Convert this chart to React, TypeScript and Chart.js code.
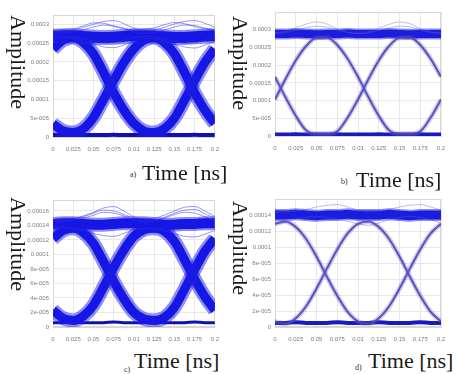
import React, { useEffect, useRef } from 'react';
import { Chart, registerables } from 'chart.js';
Chart.register(...registerables);

// time samples [ns]
const T = [0, 0.0125, 0.025, 0.0375, 0.05, 0.0625, 0.075, 0.0875, 0.1, 0.1125, 0.125, 0.1375, 0.15, 0.1625, 0.175, 0.1875, 0.2];
const X_TICKS = [0, 0.025, 0.05, 0.075, 0.1, 0.125, 0.15, 0.175, 0.2];
const X_TICK_LABELS = ['0', '0.025', '0.05', '0.075', '0.01', '0.125', '0.15', '0.175', '0.2'];

// y ticks
const AB_Y_TICKS = [0, 0.00005, 0.0001, 0.00015, 0.0002, 0.00025, 0.0003];
const AB_Y_LABELS = ['0', '5e-005', '0.0001', '0.00015', '0.0002', '0.00025', '0.0003'];
const C_Y_TICKS = [0, 0.00002, 0.00004, 0.00006, 0.00008, 0.0001, 0.00012, 0.00014, 0.00016];
const C_Y_LABELS = ['0', '2e-005', '4e-005', '6e-005', '8e-005', '0.0001', '0.00012', '0.00014', '0.00016'];
const D_Y_TICKS = [0, 0.00002, 0.00004, 0.00006, 0.00008, 0.0001, 0.00012, 0.00014];
const D_Y_LABELS = ['0', '2e-005', '4e-005', '6e-005', '8e-005', '0.0001', '0.00012', '0.00014'];

// panel a
const A_FALL = [0.000235, 0.000258, 0.000265, 0.000252, 0.000222, 0.000172, 0.000118, 0.000072, 0.000036, 0.000016, 0.000012, 0.000022, 0.00005, 0.000098, 0.00015, 0.000198, 0.000235];
const A_RISE = [0.000035, 0.000016, 0.000012, 0.000022, 0.000052, 0.0001, 0.00015, 0.000198, 0.000235, 0.000258, 0.000265, 0.000252, 0.000222, 0.000172, 0.000118, 0.000072, 0.000036];
const A_HIGH = [0.000268, 0.00027, 0.00027, 0.000268, 0.000266, 0.000265, 0.000266, 0.000268, 0.00027, 0.00027, 0.000269, 0.000267, 0.000265, 0.000265, 0.000267, 0.000269, 0.00027];
const A_NOISE_1 = [0.00028, 0.000282, 0.000285, 0.000292, 0.0003, 0.000308, 0.00031, 0.000302, 0.00029, 0.000285, 0.000286, 0.000292, 0.000301, 0.000308, 0.00031, 0.000303, 0.000292];
const A_NOISE_2 = [0.000265, 0.000262, 0.000262, 0.000255, 0.000248, 0.00024, 0.000238, 0.000245, 0.000255, 0.000262, 0.000262, 0.000255, 0.000247, 0.00024, 0.000237, 0.000245, 0.000255];
const A_NOISE_3 = [0.000275, 0.000278, 0.00028, 0.000286, 0.000293, 0.000298, 0.000296, 0.00029, 0.00028, 0.000276, 0.000278, 0.000285, 0.000293, 0.000298, 0.000297, 0.00029, 0.000282];
const A_NOISE_4 = [0.000285, 0.000286, 0.000288, 0.000296, 0.000304, 0.000303, 0.000295, 0.000288, 0.000286, 0.000287, 0.000291, 0.000299, 0.000305, 0.000302, 0.000294, 0.000288, 0.000286];
const A_NOISE_5 = [0.00027, 0.000268, 0.000266, 0.000262, 0.000256, 0.000251, 0.000252, 0.000258, 0.000265, 0.000268, 0.000267, 0.000262, 0.000255, 0.00025, 0.000251, 0.000258, 0.000265];
const A_LOW = [0.000005, 0.000005, 0.000006, 0.000005, 0.000005, 0.000005, 0.000006, 0.000005, 0.000005, 0.000005, 0.000006, 0.000005, 0.000005, 0.000005, 0.000006, 0.000005, 0.000005];

// panel b
const B_UP = [0.000103, 0.00016, 0.000213, 0.000254, 0.000277, 0.000278, 0.000257, 0.000218, 0.000167, 0.00011, 0.000057, 0.000016, 0.000006, 0.000006, 0.000013, 0.000052, 0.000103];
const B_DOWN = [0.000167, 0.00011, 0.000057, 0.000016, 0.000006, 0.000006, 0.000013, 0.000052, 0.000103, 0.00016, 0.000213, 0.000254, 0.000277, 0.000278, 0.000257, 0.000218, 0.000167];
const B_HIGH = [0.000288, 0.000288, 0.000289, 0.000288, 0.000287, 0.000288, 0.000288, 0.000289, 0.000288, 0.000288, 0.000288, 0.000289, 0.000288, 0.000287, 0.000288, 0.000288, 0.000288];
const B_NOISE_1 = [0.000292, 0.000295, 0.000305, 0.000316, 0.000322, 0.000316, 0.000302, 0.000293, 0.00029, 0.000294, 0.000304, 0.000315, 0.000322, 0.000317, 0.000303, 0.000294, 0.00029];
const B_NOISE_2 = [0.00029, 0.000292, 0.000298, 0.000306, 0.00031, 0.000307, 0.0003, 0.000292, 0.000289, 0.000291, 0.000298, 0.000305, 0.00031, 0.000308, 0.0003, 0.000292, 0.00029];
const B_LOW = [0.000004, 0.000004, 0.000005, 0.000004, 0.000004, 0.000004, 0.000005, 0.000004, 0.000004, 0.000004, 0.000005, 0.000004, 0.000004, 0.000004, 0.000005, 0.000004, 0.000004];

// panel c
const C_FALL = [0.000122, 0.000133, 0.000136, 0.00013, 0.000115, 0.00009, 0.000063, 0.000039, 0.00002, 0.000011, 0.000009, 0.000013, 0.000027, 0.000052, 0.000079, 0.000104, 0.000122];
const C_RISE = [0.000023, 0.000012, 0.000009, 0.000015, 0.00003, 0.000055, 0.000082, 0.000106, 0.000125, 0.000134, 0.000136, 0.000132, 0.000118, 0.000093, 0.000066, 0.000042, 0.000023];
const C_HIGH = [0.000142, 0.000143, 0.000143, 0.000142, 0.000141, 0.000141, 0.000142, 0.000143, 0.000143, 0.000143, 0.000142, 0.000141, 0.000141, 0.000142, 0.000142, 0.000143, 0.000143];
const C_NOISE_1 = [0.000148, 0.00015, 0.00015, 0.000153, 0.000158, 0.000164, 0.000166, 0.00016, 0.000152, 0.000149, 0.00015, 0.000154, 0.00016, 0.000165, 0.000166, 0.00016, 0.000152];
const C_NOISE_2 = [0.000145, 0.000146, 0.000147, 0.00015, 0.000154, 0.000158, 0.000157, 0.000153, 0.000147, 0.000145, 0.000146, 0.00015, 0.000155, 0.000158, 0.000157, 0.000152, 0.000147];
const C_NOISE_3 = [0.000138, 0.000137, 0.000136, 0.000133, 0.000129, 0.000126, 0.000125, 0.000129, 0.000134, 0.000136, 0.000136, 0.000133, 0.000129, 0.000125, 0.000124, 0.000128, 0.000133];
const C_NOISE_4 = [0.000147, 0.000148, 0.000149, 0.000152, 0.000157, 0.000161, 0.00016, 0.000155, 0.00015, 0.000148, 0.000148, 0.000151, 0.000157, 0.000161, 0.000162, 0.000156, 0.00015];
const C_LOW = [0.000006, 0.000006, 0.000007, 0.000006, 0.000006, 0.000006, 0.000007, 0.000006, 0.000006, 0.000006, 0.000007, 0.000006, 0.000006, 0.000006, 0.000007, 0.000006, 0.000006];

// panel d
const D_FALL = [0.000129, 0.000132, 0.000125, 0.00011, 0.000088, 0.000063, 0.000039, 0.000019, 0.000007, 0.000004, 0.000011, 0.000026, 0.000048, 0.000073, 0.000097, 0.000117, 0.000129];
const D_RISE = [0.000007, 0.000004, 0.000011, 0.000026, 0.000048, 0.000073, 0.000097, 0.000117, 0.000129, 0.000132, 0.000125, 0.00011, 0.000088, 0.000063, 0.000039, 0.000019, 0.000007];
const D_HIGH = [0.00014, 0.00014, 0.000141, 0.00014, 0.000139, 0.00014, 0.00014, 0.000141, 0.00014, 0.00014, 0.00014, 0.000141, 0.00014, 0.000139, 0.00014, 0.00014, 0.00014];
const D_NOISE_1 = [0.000143, 0.000144, 0.000145, 0.000147, 0.00015, 0.000152, 0.000153, 0.00015, 0.000146, 0.000144, 0.000145, 0.000147, 0.00015, 0.000152, 0.000153, 0.00015, 0.000146];
const D_NOISE_2 = [0.000128, 0.000131, 0.000135, 0.000137, 0.000138, 0.000137, 0.000135, 0.000132, 0.000129, 0.000127, 0.00013, 0.000134, 0.000137, 0.000138, 0.000137, 0.000134, 0.00013];
const D_LOW = [0.000005, 0.000005, 0.000006, 0.000005, 0.000005, 0.000005, 0.000006, 0.000005, 0.000005, 0.000005, 0.000006, 0.000005, 0.000005, 0.000005, 0.000006, 0.000005, 0.000005];

type Trace = { values: number[]; color: string; width: number };

const BLUE = '#1010e4';
const BLUE_HALO = 'rgba(30,30,230,0.5)';
const NOISE = 'rgba(50,50,225,0.5)';
const PURPLE = 'rgba(68,60,175,0.9)';
const PURPLE_HALO = 'rgba(100,90,200,0.3)';

const TRACES_A: Trace[] = [
  { values: A_NOISE_1, color: NOISE, width: 1 },
  { values: A_NOISE_2, color: NOISE, width: 1 },
  { values: A_NOISE_3, color: NOISE, width: 1 },
  { values: A_NOISE_4, color: NOISE, width: 1 },
  { values: A_NOISE_5, color: NOISE, width: 1 },
  { values: A_HIGH, color: BLUE_HALO, width: 15 },
  { values: A_HIGH, color: BLUE, width: 11 },
  { values: A_FALL, color: BLUE_HALO, width: 14 },
  { values: A_RISE, color: BLUE_HALO, width: 14 },
  { values: A_FALL, color: BLUE, width: 9 },
  { values: A_RISE, color: BLUE, width: 9 },
  { values: A_LOW, color: '#1010b0', width: 4 },
];
const TRACES_B: Trace[] = [
  { values: B_NOISE_1, color: 'rgba(90,90,210,0.4)', width: 1 },
  { values: B_NOISE_2, color: 'rgba(90,90,210,0.4)', width: 1 },
  { values: B_UP, color: PURPLE_HALO, width: 5 },
  { values: B_DOWN, color: PURPLE_HALO, width: 5 },
  { values: B_UP, color: PURPLE, width: 2 },
  { values: B_DOWN, color: PURPLE, width: 2 },
  { values: B_HIGH, color: BLUE_HALO, width: 11 },
  { values: B_HIGH, color: '#1a1ad8', width: 8 },
  { values: B_LOW, color: '#1a1ac0', width: 4 },
];
const TRACES_C: Trace[] = [
  { values: C_NOISE_1, color: NOISE, width: 1 },
  { values: C_NOISE_2, color: NOISE, width: 1 },
  { values: C_NOISE_3, color: NOISE, width: 1 },
  { values: C_NOISE_4, color: NOISE, width: 1 },
  { values: C_HIGH, color: BLUE_HALO, width: 14 },
  { values: C_HIGH, color: BLUE, width: 10 },
  { values: C_FALL, color: BLUE_HALO, width: 14 },
  { values: C_RISE, color: BLUE_HALO, width: 14 },
  { values: C_FALL, color: BLUE, width: 9 },
  { values: C_RISE, color: BLUE, width: 9 },
  { values: C_LOW, color: '#1010b0', width: 3 },
];
const TRACES_D: Trace[] = [
  { values: D_NOISE_1, color: 'rgba(90,90,210,0.4)', width: 1 },
  { values: D_NOISE_2, color: 'rgba(90,90,210,0.4)', width: 1 },
  { values: D_FALL, color: PURPLE_HALO, width: 5 },
  { values: D_RISE, color: PURPLE_HALO, width: 5 },
  { values: D_FALL, color: PURPLE, width: 2 },
  { values: D_RISE, color: PURPLE, width: 2 },
  { values: D_HIGH, color: BLUE_HALO, width: 12 },
  { values: D_HIGH, color: '#1a1ad8', width: 9 },
  { values: D_LOW, color: '#1a1ac0', width: 4 },
];

const boxPlugin = {
  id: 'plotBox',
  beforeDatasetsDraw(chart: any) {
    const { ctx, chartArea } = chart;
    ctx.save();
    ctx.strokeStyle = '#d6d6d6';
    ctx.lineWidth = 1;
    ctx.strokeRect(
      Math.round(chartArea.left) + 0.5,
      Math.round(chartArea.top) + 0.5,
      Math.round(chartArea.right - chartArea.left) - 1,
      Math.round(chartArea.bottom - chartArea.top) - 1
    );
    ctx.restore();
  },
};

type PanelProps = {
  left: number; top: number; width: number; height: number;
  yW: number; xH: number;
  pad: { left: number; top: number; right: number; bottom: number };
  yMax: number; yTicks: number[]; yLabels: string[];
  traces: Trace[];
};

function Panel(p: PanelProps) {
  const ref = useRef<HTMLCanvasElement>(null);
  useEffect(() => {
    const tickFont = { family: "'Liberation Sans', Arial, sans-serif", size: 6 };
    const chart = new Chart(ref.current as HTMLCanvasElement, {
      type: 'line',
      data: {
        datasets: p.traces.map((tr) => ({
          data: T.map((t, i) => ({ x: t, y: tr.values[i] })),
          borderColor: tr.color,
          borderWidth: tr.width,
          pointRadius: 0,
          fill: false,
          cubicInterpolationMode: 'monotone',
          clip: 0,
        })),
      } as any,
      options: {
        animation: false,
        responsive: false,
        devicePixelRatio: 1,
        events: [],
        layout: { padding: p.pad },
        plugins: { legend: { display: false }, tooltip: { enabled: false } },
        scales: {
          x: {
            type: 'linear',
            min: 0,
            max: 0.2,
            afterBuildTicks: (s: any) => { s.ticks = X_TICKS.map((v) => ({ value: v })); },
            afterFit: (s: any) => { s.height = p.xH; },
            ticks: {
              callback: (_v: any, i: number) => X_TICK_LABELS[i],
              color: '#7e7e7e',
              font: tickFont,
              padding: 9,
              maxRotation: 0,
              autoSkip: false,
            },
            grid: { color: '#e8e8e8', drawTicks: false },
            border: { color: '#d6d6d6' },
          },
          y: {
            type: 'linear',
            min: 0,
            max: p.yMax,
            afterBuildTicks: (s: any) => { s.ticks = p.yTicks.map((v) => ({ value: v })); },
            afterFit: (s: any) => { s.width = p.yW; },
            ticks: {
              callback: (_v: any, i: number) => p.yLabels[i],
              color: '#7e7e7e',
              font: tickFont,
              padding: 4,
              autoSkip: false,
            },
            grid: { color: '#e8e8e8', drawTicks: false },
            border: { color: '#d6d6d6' },
          },
        },
      } as any,
      plugins: [boxPlugin],
    });
    return () => chart.destroy();
  }, []);
  return (
    <canvas
      ref={ref}
      width={p.width}
      height={p.height}
      style={{ position: 'absolute', left: p.left, top: p.top, width: p.width, height: p.height }}
    />
  );
}

const serif = "'Liberation Serif', 'Times New Roman', serif";

function Amplitude({ x, y }: { x: number; y: number }) {
  return (
    <div
      style={{
        position: 'absolute', left: x, top: y, fontFamily: serif, fontSize: 22, lineHeight: 1,
        color: '#1a1a1a', whiteSpace: 'nowrap', transformOrigin: '0 0', transform: 'rotate(90deg)',
      }}
    >
      Amplitude
    </div>
  );
}

function XTitle({ tag, tx, ty, x, y }: { tag: string; tx: number; ty: number; x: number; y: number }) {
  return (
    <>
      <div style={{ position: 'absolute', left: tx, top: ty, fontFamily: serif, fontSize: 8, lineHeight: 1, color: '#333', whiteSpace: 'nowrap' }}>{tag}</div>
      <div style={{ position: 'absolute', left: x, top: y, fontFamily: serif, fontSize: 22, lineHeight: 1, color: '#1a1a1a', whiteSpace: 'nowrap' }}>Time [ns]</div>
    </>
  );
}

export default function App() {
  return (
    <div style={{ position: 'absolute', left: 0, top: 0, width: 457, height: 374, background: '#fff', overflow: 'hidden' }}>
      <Panel left={0} top={0} width={228} height={162} yW={53} xH={25}
        pad={{ left: 0, top: 15, right: 11, bottom: 0 }}
        yMax={0.000325} yTicks={AB_Y_TICKS} yLabels={AB_Y_LABELS} traces={TRACES_A} />
      <Panel left={228} top={0} width={229} height={162} yW={47} xH={26}
        pad={{ left: 0, top: 12, right: 16, bottom: 0 }}
        yMax={0.00035} yTicks={AB_Y_TICKS} yLabels={AB_Y_LABELS} traces={TRACES_B} />
      <Panel left={0} top={185} width={228} height={160} yW={53} xH={18}
        pad={{ left: 0, top: 15, right: 11, bottom: 0 }}
        yMax={0.000175} yTicks={C_Y_TICKS} yLabels={C_Y_LABELS} traces={TRACES_C} />
      <Panel left={228} top={185} width={229} height={160} yW={47} xH={18}
        pad={{ left: 0, top: 14, right: 16, bottom: 0 }}
        yMax={0.00016} yTicks={D_Y_TICKS} yLabels={D_Y_LABELS} traces={TRACES_D} />

      <Amplitude x={29} y={15} />
      <Amplitude x={251} y={16} />
      <Amplitude x={29} y={197} />
      <Amplitude x={251} y={201} />

      <XTitle tag="a)" tx={130} ty={171} x={142} y={162} />
      <XTitle tag="b)" tx={341} ty={178} x={356} y={169} />
      <XTitle tag="c)" tx={124} ty={366} x={134} y={350} />
      <XTitle tag="d)" tx={355} ty={364} x={368} y={350} />
    </div>
  );
}
